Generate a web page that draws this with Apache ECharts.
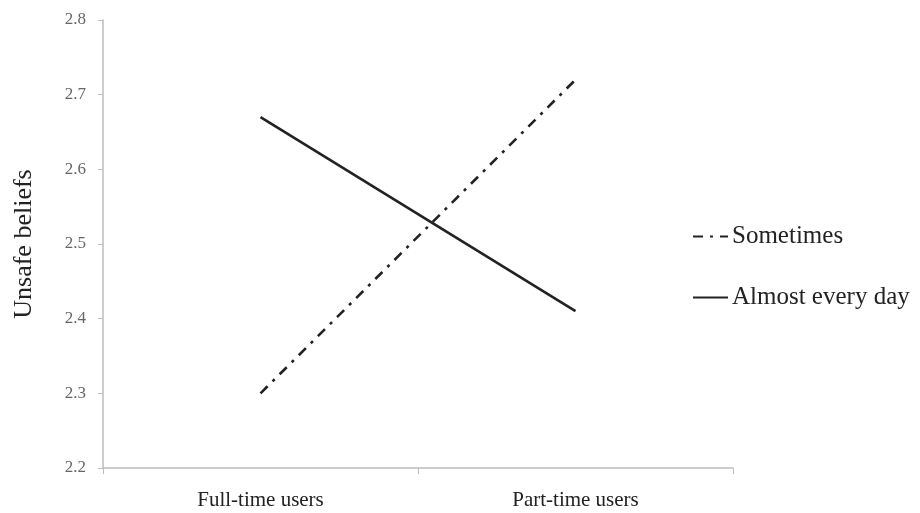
<!DOCTYPE html>
<html>
<head>
<meta charset="utf-8">
<script src="https://cdn.jsdelivr.net/npm/echarts@6/dist/echarts.min.js"></script>
<style>html,body{margin:0;padding:0;background:#fff}#c{width:920px;height:513px}</style>
</head>
<body>
<div id="c"></div>
<script>
const categories = ['Full-time users', 'Part-time users'];
const sometimes = [2.30, 2.72];
const almostEveryDay = [2.67, 2.41];
const yTicks = [2.2, 2.3, 2.4, 2.5, 2.6, 2.7, 2.8];

const chart = echarts.init(document.getElementById('c'));
const serif = '"Liberation Serif", "DejaVu Serif", serif';
chart.setOption({
  animation: false,
  backgroundColor: '#fff',
  grid: { left: 103, right: 187, top: 20, bottom: 45 },
  legend: {
    orient: 'vertical',
    left: 687,
    top: 219,
    itemGap: 36,
    itemWidth: 35,
    itemHeight: 14,
    itemStyle: { color: 'rgba(0,0,0,0)', borderWidth: 0, opacity: 0 },
    textStyle: { fontFamily: serif, fontSize: 25, color: '#222', padding: [0, 0, 0, -1] },
    data: ['Sometimes', 'Almost every day']
  },
  xAxis: {
    type: 'category',
    data: categories,
    axisLine: { lineStyle: { color: '#bdbdbd', width: 1.5 } },
    axisTick: { show: true, length: 6, lineStyle: { color: '#bdbdbd' } },
    axisLabel: { fontFamily: serif, fontSize: 21, color: '#222', margin: 22 }
  },
  yAxis: {
    type: 'value',
    min: 2.2,
    max: 2.8,
    interval: 0.1,
    name: 'Unsafe beliefs',
    nameLocation: 'middle',
    nameGap: 66,
    nameTextStyle: { fontFamily: serif, fontSize: 26, color: '#222' },
    splitLine: { show: false },
    axisLine: { show: true, lineStyle: { color: '#bdbdbd', width: 1.5 } },
    axisTick: { show: true, length: 5, lineStyle: { color: '#bdbdbd' } },
    axisLabel: {
      fontFamily: serif, fontSize: 17, color: '#666', margin: 17,
      formatter: function (v) {
        const t = yTicks.find(x => Math.abs(x - v) < 1e-6);
        return t !== undefined ? t.toFixed(1) : '';
      }
    }
  },
  series: [
    {
      name: 'Sometimes',
      type: 'line',
      data: sometimes,
      symbol: 'none',
      lineStyle: { color: '#222', width: 2.6, type: [10, 7, 3, 7] },
      itemStyle: { color: '#222' }
    },
    {
      name: 'Almost every day',
      type: 'line',
      data: almostEveryDay,
      symbol: 'none',
      lineStyle: { color: '#222', width: 2.6, type: 'solid' },
      itemStyle: { color: '#222' }
    }
  ]
});
</script>
</body>
</html>
